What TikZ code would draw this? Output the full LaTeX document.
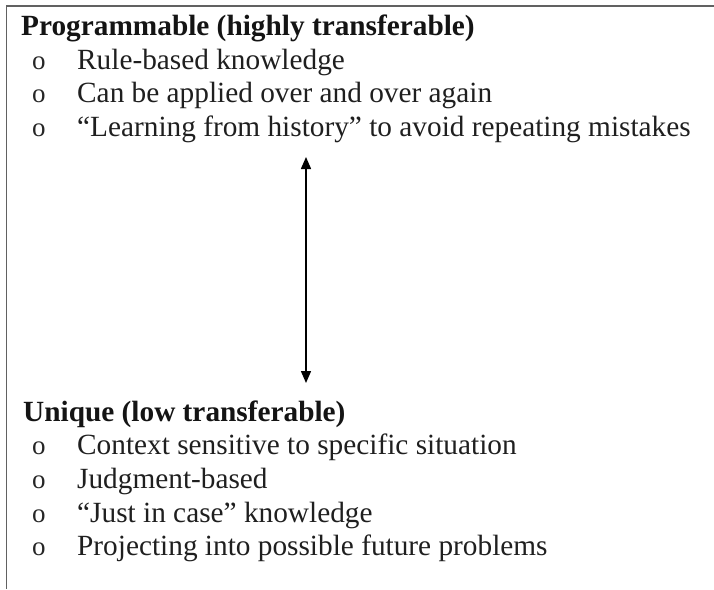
\documentclass[tikz,border=0pt]{standalone}
\usepackage{fontspec}
\setmainfont{Liberation Serif}
\usetikzlibrary{arrows.meta}

\tikzset{
  frameline/.style={draw=black!62, line width=1.8pt},
  heading/.style={anchor=base west, inner sep=0pt, text=black!92,
    font=\fontsize{29.3}{33.7}\selectfont\bfseries},
  itemtext/.style={anchor=base west, inner sep=0pt, text=black!88,
    font=\fontsize{29.3}{33.7}\selectfont},
  itemmark/.style={anchor=base west, inner sep=0pt, text=black!85,
    font=\fontsize{27}{33.7}\selectfont},
  twoway/.style={{Triangle[length=12pt,width=10pt]}-{Triangle[length=12pt,width=10pt]},
    line width=1.5pt, black}
}

\begin{document}
\begin{tikzpicture}[x=1pt, y=-1pt]
  \useasboundingbox (0,0) rectangle (714,589);

  % open frame: top rule and left rule
  \draw[frameline] (714,6) -- (6.5,6) -- (6.5,589);

  % programmable knowledge
  \node[heading] (progHead) at (21,35.5) {Programmable (highly transferable)};
  \foreach \y/\txt [count=\i] in {69.2/Rule-based knowledge,
      102.9/Can be applied over and over again,
      136.6/“Learning from history” to avoid repeating mistakes} {
    \node[itemmark] (progMark\i) at (32,\y) {o};
    \node[itemtext] (progItem\i) at (77,\y) {\txt};
  }

  % unique knowledge
  \node[heading] (uniqHead) at (23,421) {Unique (low transferable)};
  \foreach \y/\txt [count=\i] in {454.7/Context sensitive to specific situation,
      488.4/Judgment-based,
      522.1/“Just in case” knowledge,
      555.8/Projecting into possible future problems} {
    \node[itemmark] (uniqMark\i) at (32,\y) {o};
    \node[itemtext] (uniqItem\i) at (77,\y) {\txt};
  }

  % spectrum between the two kinds
  \coordinate (specTop) at (306,157);
  \coordinate (specBot) at (306,383);
  \draw[twoway] (specTop) -- (specBot);
\end{tikzpicture}
\end{document}
